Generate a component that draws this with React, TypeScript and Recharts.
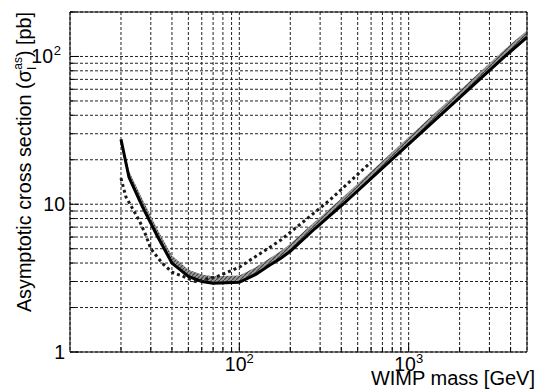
import React from 'react';
import { ComposedChart, Line, Area, XAxis, YAxis, CartesianGrid, ReferenceArea } from 'recharts';

// WIMP mass [GeV] and asymptotic cross section [pb]
const massSolid = [20, 22.3, 26.8, 33, 40, 50, 60, 70, 100, 125, 150, 175, 200, 280, 410, 1000, 3700, 5000];
const sigmaSolid = [27.5, 15.2, 9.6, 6.0, 4.0, 3.25, 3.0, 2.92, 2.96, 3.35, 3.85, 4.3, 4.8, 6.85, 10, 25.5, 100, 135];
const sigmaBandHi = [28, 16.8, 10.8, 6.7, 4.5, 3.6, 3.35, 3.25, 3.3, 3.75, 4.3, 4.8, 5.4, 7.65, 11.2, 28.5, 112, 150];

const massDotted = [20, 21.4, 25.6, 28, 30, 35, 40, 45, 55, 73, 100, 175, 340, 600];
const sigmaDotted = [15, 11.2, 7.8, 6.2, 5.0, 4.0, 3.47, 3.3, 3.0, 3.22, 3.75, 5.7, 10.6, 19.3];

const xTicks = [20, 30, 40, 50, 60, 70, 80, 90, 100, 200, 300, 400, 500, 600, 700, 800, 900, 1000, 2000, 3000, 4000];
const yTicks = [1, 2, 3, 4, 5, 6, 7, 8, 9, 10, 20, 30, 40, 50, 60, 70, 80, 90, 100, 200];

const xLabelValues = [100, 1000];
const xLabelExps = ['2', '3'];
const yLabelValues = [1, 10, 100];
const yLabelBase = ['1', '10', '10'];
const yLabelExps = ['', '', '2'];

const xTitle = 'WIMP mass [GeV]';
const yTitleMain = 'Asymptotic cross section (σ';
const yTitleSub = 'I';
const yTitleSup = 'as';
const yTitleEnd = ') [pb]';

const FONT = '"Liberation Sans", Arial, Helvetica, sans-serif';
const FS = 19.5;

const solidData = massSolid.map((m, i) => ({ m, s: sigmaSolid[i], band: [sigmaSolid[i], sigmaBandHi[i]] }));
const dottedData = massDotted.map((m, i) => ({ m, d: sigmaDotted[i] }));

const XTick = (props: any) => {
  const { x, y, payload } = props;
  const v = payload.value;
  const idx = xLabelValues.indexOf(v);
  const major = idx >= 0;
  return (
    <g>
      <line x1={x} x2={x} y1={y} y2={y - (major ? 9 : 5)} stroke="#000" strokeWidth={1} />
      {major && (
        <text x={x} y={y + 19} textAnchor="middle" fontFamily={FONT} fontSize={FS} fill="#000">
          10<tspan dy={-8} fontSize={13}>{xLabelExps[idx]}</tspan>
        </text>
      )}
    </g>
  );
};

const YTick = (props: any) => {
  const { x, y, payload } = props;
  const v = payload.value;
  const idx = yLabelValues.indexOf(v);
  const major = idx >= 0;
  const exp = major ? yLabelExps[idx] : '';
  return (
    <g>
      <line x1={x} x2={x + (major ? 9 : 5)} y1={y} y2={y} stroke="#000" strokeWidth={1} />
      {major && (
        <text x={x - (exp ? 17 : 5)} y={y + 7} textAnchor="end" fontFamily={FONT} fontSize={FS} fill="#000">
          {yLabelBase[idx]}
        </text>
      )}
      {major && exp && (
        <text x={x - 9} y={y - 1} textAnchor="end" fontFamily={FONT} fontSize={13} fill="#000">
          {exp}
        </text>
      )}
    </g>
  );
};

const XTitle = () => (
  <text x={535} y={384.5} textAnchor="end" fontFamily={FONT} fontSize={20} fill="#000">
    {xTitle}
  </text>
);

const YTitle = () => (
  <text
    x={31}
    y={12}
    transform="rotate(-90, 31, 12)"
    textAnchor="end"
    fontFamily={FONT}
    fontSize={19.8}
    fill="#000"
  >
    {yTitleMain}
    <tspan dy={5} fontSize={12}>{yTitleSub}</tspan>
    <tspan dx={-3} dy={-14} fontSize={12}>{yTitleSup}</tspan>
    <tspan dy={9}>{yTitleEnd}</tspan>
  </text>
);

export default function App() {
  return (
    <div style={{ position: 'absolute', left: 0, top: 0, width: 536, height: 389, background: '#fff' }}>
      <ComposedChart width={536} height={389} margin={{ top: 12, right: 9, bottom: 0, left: 0 }}>
        <defs>
          <pattern id="hatch" width="4" height="4" patternUnits="userSpaceOnUse">
            <rect width="4" height="4" fill="#9a9a9a" />
            <path d="M0,4 L4,0" stroke="#444" strokeWidth="1.2" />
          </pattern>
        </defs>
        <CartesianGrid stroke="#222" strokeDasharray="3 2" strokeWidth={1} />
        <XAxis
          dataKey="m"
          type="number"
          scale="log"
          domain={[10, 5000]}
          ticks={xTicks}
          interval={0}
          allowDataOverflow
          height={37}
          axisLine={false}
          tickLine={false}
          tickSize={0}
          tickMargin={0}
          tick={<XTick />}
          label={<XTitle />}
        />
        <YAxis
          type="number"
          scale="log"
          domain={[1, 200]}
          ticks={yTicks}
          interval={0}
          allowDataOverflow
          width={70}
          axisLine={false}
          tickLine={false}
          tickSize={0}
          tickMargin={0}
          tick={<YTick />}
          label={<YTitle />}
        />
        <Area
          data={solidData}
          dataKey="band"
          type="linear"
          stroke="none"
          fill="url(#hatch)"
          fillOpacity={1}
          isAnimationActive={false}
        />
        <Line
          data={solidData}
          dataKey="s"
          type="linear"
          stroke="#000"
          strokeWidth={3}
          dot={false}
          isAnimationActive={false}
        />
        <Line
          data={dottedData}
          dataKey="d"
          type="linear"
          stroke="#1a1a1a"
          strokeWidth={3}
          strokeDasharray="3 3"
          dot={false}
          isAnimationActive={false}
        />
        <ReferenceArea x1={10} x2={5000} y1={1} y2={200} fill="none" stroke="#000" strokeWidth={1} ifOverflow="visible" />
      </ComposedChart>
    </div>
  );
}
